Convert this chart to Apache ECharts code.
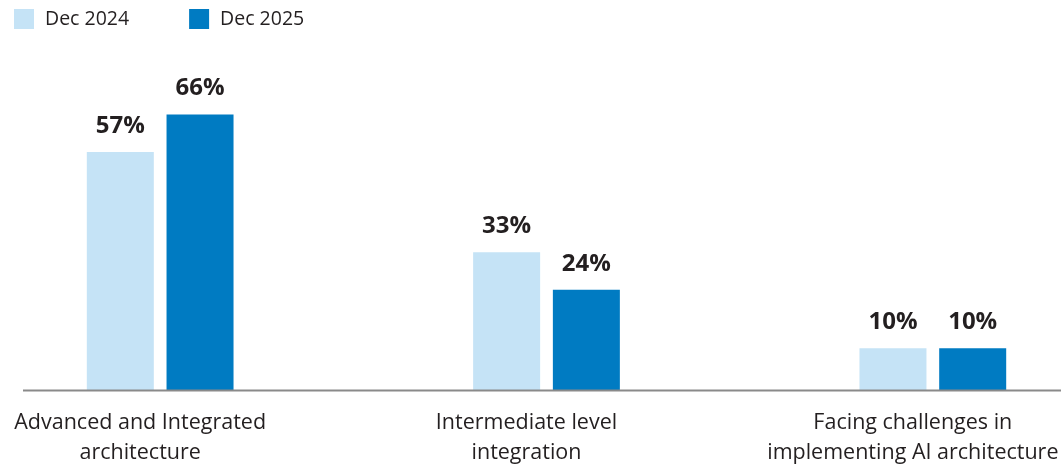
<!DOCTYPE html>
<html>
<head>
<meta charset="utf-8">
<script src="https://cdn.jsdelivr.net/npm/echarts@6/dist/echarts.min.js"></script>
<style>
  html, body { margin: 0; padding: 0; background: #fff; overflow: hidden; width: 1061px; height: 469px; }
  /* the plot canvas is wider than the page so the outer groups sit close to the edges */
  #chart { position: absolute; left: -33px; top: 0; width: 1159px; height: 469px; }
</style>
</head>
<body>
<div id="chart"></div>
<script>
// Share of organisations by AI architecture maturity
const categories = [
  'Advanced and Integrated\narchitecture',
  'Intermediate level\nintegration',
  'Facing challenges in\nimplementing AI architecture'
];
const seriesNames = ['Dec 2024', 'Dec 2025'];
const dec2024 = [57, 33, 10];
const dec2025 = [66, 24, 10];

const FONT = '"Open Sans", "Noto Sans", sans-serif';
const LIGHT = '#C5E3F6';
const DARK = '#007BC2';
const SHIFT = 33; // horizontal offset of the canvas relative to the page

const chart = echarts.init(document.getElementById('chart'), null, { renderer: 'canvas' });

const valueLabel = {
  show: true,
  position: 'top',
  distance: 14,
  formatter: p => p.value + '%',
  fontFamily: FONT,
  fontWeight: 'bold',
  fontSize: 24,
  color: '#231f20'
};

chart.setOption({
  animation: false,
  color: [LIGHT, DARK],
  legend: {
    left: 14 + SHIFT,
    top: 9,
    padding: 0,
    itemWidth: 20,
    itemHeight: 20,
    itemGap: 60,
    icon: 'rect',
    textStyle: { fontFamily: FONT, fontSize: 19.5, color: '#231f20', padding: [0, 0, 0, 6] },
    data: seriesNames
  },
  grid: { left: 0, right: 0, top: 56, bottom: 79, containLabel: false },
  xAxis: {
    type: 'category',
    data: categories,
    axisLine: { show: false },
    axisTick: { show: false },
    axisLabel: {
      interval: 0,
      margin: 18,
      fontFamily: FONT,
      fontSize: 21.5,
      lineHeight: 30,
      color: '#231f20',
      padding: [0, 40, 0, 0]
    }
  },
  yAxis: {
    type: 'value',
    min: 0,
    max: 80,
    show: false,
    splitLine: { show: false }
  },
  graphic: [{
    type: 'line',
    shape: { x1: 23 + SHIFT, y1: 390.5, x2: 1061 + SHIFT, y2: 390.5 },
    style: { stroke: '#8a8a8a', lineWidth: 2 },
    z: 10
  }],
  series: [
    {
      name: seriesNames[0],
      type: 'bar',
      data: dec2024,
      barWidth: 67,
      barGap: '19%',
      itemStyle: { color: LIGHT },
      label: valueLabel
    },
    {
      name: seriesNames[1],
      type: 'bar',
      data: dec2025,
      barWidth: 67,
      itemStyle: { color: DARK },
      label: valueLabel
    }
  ]
});
</script>
</body>
</html>
